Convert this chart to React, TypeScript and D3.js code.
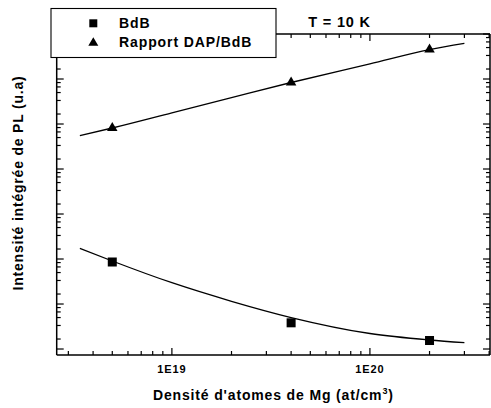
import React from "react";
import * as d3 from "d3";

// ---- data ----
const DENSITY = [5e18, 4e19, 2e20];
const BDB = [85.8, 3.82, 1.545];
const RAPPORT = [8.15e4, 8.36e5, 4.52e6];

const FIT_X = [3.43e18, 5e18, 1e19, 2e19, 4e19, 1e20, 2e20, 3e20];
const FIT_BDB = [173, 90.3, 29.7, 11.5, 5.01, 2.21, 1.585, 1.38];
const FIT_RAPPORT = [5.49e4, 8.15e4, 1.77e5, 3.86e5, 8.36e5, 2.18e6, 4.52e6, 6.21e6];

const X_MAJOR = [1e19, 1e20];
const X_LABELS = ["1E19", "1E20"];
const Y_MAJOR_EXP = [0, 1, 2, 3, 4, 5, 6, 7];
const Y_MINOR_MULT = [5 / 3, 10 / 3, 5, 20 / 3, 25 / 3];

const LEGEND = ["BdB", "Rapport DAP/BdB"];
const TITLE = "T = 10 K";
const X_TITLE = "Densité d'atomes de Mg (at/cm";
const Y_TITLE = "Intensité intégrée de PL (u.a)";

const W = 491;
const H = 408;
const L = 56.7, R = 490, T = 34, B = 355;
const FONT = "'Liberation Sans', Arial, Helvetica, sans-serif";

export default function App() {
  const x = d3.scaleLog().domain([2.62e18, 4.04e20]).range([L, R]);
  const y = d3.scaleLog().domain([0.736, 1e7]).range([B, T]);

  const xTicks = x.ticks().filter((v) => v >= 2.62e18 && v <= 4.04e20);
  const isMajorX = (v: number) => X_MAJOR.some((m) => Math.abs(m - v) / m < 1e-6);

  const yMinor: number[] = [];
  Y_MAJOR_EXP.forEach((e) => {
    Y_MINOR_MULT.forEach((m) => {
      const v = m * Math.pow(10, e);
      if (v >= 0.736 && v <= 1e7) yMinor.push(v);
    });
  });
  const yMajor = Y_MAJOR_EXP.map((e) => Math.pow(10, e)).filter((v) => v >= 0.736 && v <= 1e7);

  const line = d3
    .line<[number, number]>()
    .x((d) => x(d[0]))
    .y((d) => y(d[1]))
    .curve(d3.curveMonotoneX);

  const fitB = line(FIT_X.map((v, i) => [v, FIT_BDB[i]] as [number, number])) || "";
  const fitR = line(FIT_X.map((v, i) => [v, FIT_RAPPORT[i]] as [number, number])) || "";

  const tri = (cx: number, cy: number, w: number, h: number) =>
    `M${cx - w / 2},${cy + h / 3}L${cx + w / 2},${cy + h / 3}L${cx},${cy - (2 * h) / 3}Z`;

  const majLen = 7, minLen = 4;
  const ax = { stroke: "#000", strokeWidth: 1.5 };
  const tk = { stroke: "#000", strokeWidth: 1.2 };
  const txt = { fontFamily: FONT, fontWeight: 700 as const, fill: "#000" };

  return (
    <svg
      width={W}
      height={H}
      viewBox={`0 0 ${W} ${H}`}
      style={{ position: "absolute", left: 0, top: 0, background: "#fff" }}
    >
      <rect x={0} y={0} width={W} height={H} fill="#fff" />

      {/* x ticks bottom and top */}
      {xTicks.map((v, i) => {
        const len = isMajorX(v) ? majLen : minLen;
        const px = x(v);
        return (
          <g key={"xt" + i}>
            <line x1={px} x2={px} y1={B} y2={B - len} {...tk} />
            <line x1={px} x2={px} y1={T} y2={T + len} {...tk} />
          </g>
        );
      })}
      {/* y ticks left and right */}
      {yMajor.map((v, i) => (
        <g key={"ym" + i}>
          <line x1={L} x2={L + majLen} y1={y(v)} y2={y(v)} {...tk} />
          <line x1={R} x2={R - majLen} y1={y(v)} y2={y(v)} {...tk} />
        </g>
      ))}
      {yMinor.map((v, i) => (
        <g key={"yn" + i}>
          <line x1={L} x2={L + minLen} y1={y(v)} y2={y(v)} {...tk} />
          <line x1={R} x2={R - minLen} y1={y(v)} y2={y(v)} {...tk} />
        </g>
      ))}

      {/* frame */}
      <line x1={L} x2={R} y1={B} y2={B} {...ax} />
      <line x1={L} x2={R} y1={T} y2={T} {...ax} />
      <line x1={L} x2={L} y1={T} y2={B} {...ax} />
      <line x1={R} x2={R} y1={T} y2={B} {...ax} />

      {/* x tick labels */}
      {X_MAJOR.map((v, i) => (
        <text
          key={"xl" + i}
          x={x(v)}
          y={373.3}
          textAnchor="middle"
          fontSize={11}
          letterSpacing={0.9}
          {...txt}
        >
          {X_LABELS[i]}
        </text>
      ))}

      {/* fitted curves */}
      <path d={fitR} fill="none" stroke="#000" strokeWidth={1.3} />
      <path d={fitB} fill="none" stroke="#000" strokeWidth={1.3} />

      {/* markers */}
      {DENSITY.map((v, i) => (
        <rect
          key={"sq" + i}
          x={x(v) - 4.5}
          y={y(BDB[i]) - 4.5}
          width={9}
          height={9}
          fill="#000"
        />
      ))}
      {DENSITY.map((v, i) => (
        <path key={"tr" + i} d={tri(x(v), y(RAPPORT[i]), 10.5, 9)} fill="#000" />
      ))}

      {/* legend */}
      <rect x={51} y={8.5} width={225} height={49} fill="#fff" stroke="#000" strokeWidth={1.1} />
      <rect x={89.3} y={19.3} width={8} height={8} fill="#000" />
      <path d={tri(93.3, 42.8, 10, 8.5)} fill="#000" />
      <text x={119} y={28.3} fontSize={14} letterSpacing={0.9} {...txt}>
        {LEGEND[0]}
      </text>
      <text x={119} y={47} fontSize={14} letterSpacing={0.9} {...txt}>
        {LEGEND[1]}
      </text>

      {/* title */}
      <text x={308.3} y={27.3} fontSize={14.5} letterSpacing={0.8} {...txt}>
        {TITLE}
      </text>

      {/* axis titles */}
      <text x={(L + R) / 2} y={400} textAnchor="middle" fontSize={14} letterSpacing={0.85} {...txt}>
        {X_TITLE}
        <tspan fontSize={9} dy={-6}>3</tspan>
        <tspan dy={6}>)</tspan>
      </text>
      <text
        transform={`translate(22.7,183) rotate(-90)`}
        textAnchor="middle"
        fontSize={14}
        letterSpacing={0.8}
        {...txt}
      >
        {Y_TITLE}
      </text>
    </svg>
  );
}
